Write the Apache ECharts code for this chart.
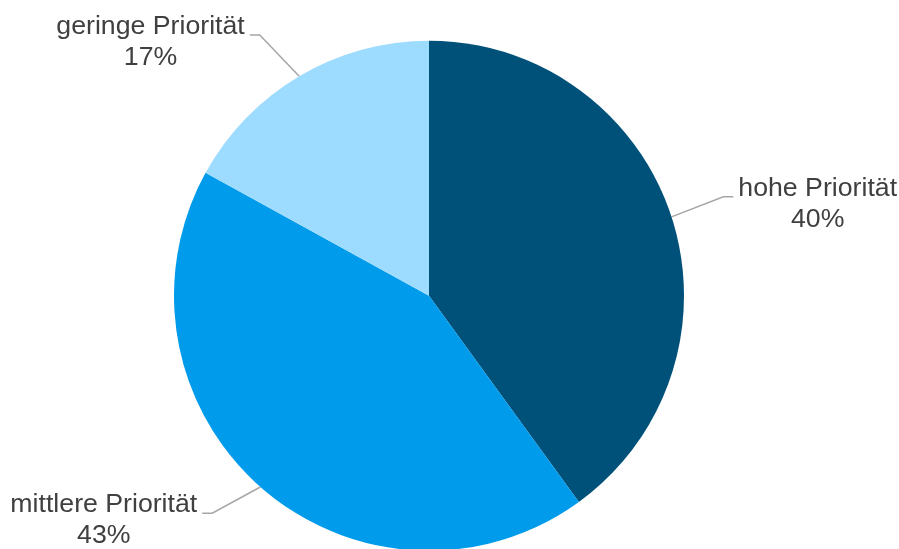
<!DOCTYPE html>
<html>
<head>
<meta charset="utf-8">
<script src="https://cdn.jsdelivr.net/npm/echarts@6/dist/echarts.min.js"></script>
<style>
html,body{margin:0;padding:0;background:#fff;}
#chart{width:899px;height:549px;}
</style>
</head>
<body>
<div id="chart"></div>
<script>
const categories = ['hohe Priorität', 'mittlere Priorität', 'geringe Priorität'];
const values = [40, 43, 17];
const sliceColors = ['#00517A', '#009BEA', '#9EDCFF'];
// leader line lengths (radial part, horizontal part) per slice
const lineLen = [65, 35, 48];
const lineLen2 = [0, 35, 25];

const chart = echarts.init(document.getElementById('chart'), null, {renderer: 'canvas'});

const data = categories.map((name, i) => ({
  name: name,
  value: values[i],
  itemStyle: {color: sliceColors[i]},
  labelLine: {length: lineLen[i], length2: lineLen2[i]}
}));

const FONT = '"Liberation Sans", Arial, sans-serif';

chart.setOption({
  animation: false,
  backgroundColor: '#ffffff',
  series: [{
    type: 'pie',
    center: [429, 295.7],
    radius: 255,
    startAngle: 90,
    clockwise: true,
    avoidLabelOverlap: false,
    itemStyle: {borderWidth: 0},
    label: {
      show: true,
      position: 'outside',
      color: '#404040',
      fontFamily: FONT,
      fontSize: 26.7,
      lineHeight: 31,
      padding: [14, 0, 0, 0],
      distanceToLabelLine: 5,
      formatter: p => '{c|' + p.name + '}\n{c|' + Math.round(p.percent) + '%}',
      rich: {
        c: {
          align: 'center',
          color: '#404040',
          fontFamily: FONT,
          fontSize: 26.7,
          lineHeight: 31
        }
      }
    },
    labelLine: {
      show: true,
      smooth: false,
      lineStyle: {color: '#A6A6A6', width: 1.5}
    },
    labelLayout: function (params) {
      const pts = params.labelLinePoints;
      if (!pts || pts.length < 3) return {};
      const p0 = pts[0], p2 = pts[2];
      const dir = p2[0] >= p0[0] ? -1 : 1;
      return {
        labelLinePoints: [p0, [p2[0] + dir * 10, p2[1]], p2]
      };
    },
    data: data
  }]
});
</script>
</body>
</html>
